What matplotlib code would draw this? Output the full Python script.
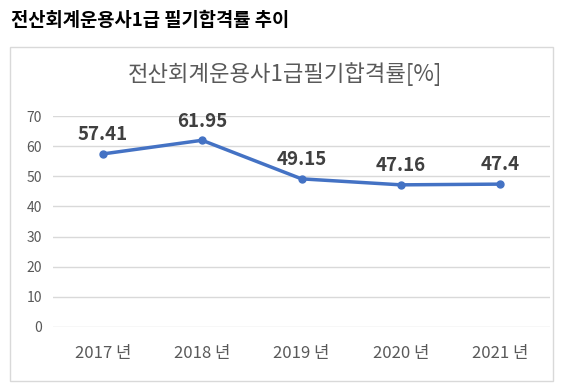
import matplotlib
matplotlib.use("Agg")
import matplotlib.pyplot as plt
from matplotlib.patches import Rectangle

plt.rcParams['font.family'] = ['Noto Sans CJK KR', 'DejaVu Sans']

categories = ["2017 년", "2018 년", "2019 년", "2020 년", "2021 년"]
values = [57.41, 61.95, 49.15, 47.16, 47.4]
value_labels = ["57.41", "61.95", "49.15", "47.16", "47.4"]
yticks = [0, 10, 20, 30, 40, 50, 60, 70]

W, H = 568, 389
fig = plt.figure(figsize=(W / 100, H / 100), dpi=100)

# outer frame box
fig.patches.append(Rectangle((10 / W, 1 - 381 / H), 543 / W, 334 / H,
                             transform=fig.transFigure, fill=False,
                             edgecolor="#d9d9d9", linewidth=1.0))

fig.text(11 / W, 1 - 20 / H, "전산회계운용사1급 필기합격률 추이", fontsize=13.5,
         fontweight="bold", color="black", ha="left", va="center")
fig.text(285 / W, 1 - 74 / H, "전산회계운용사1급필기합격률[%]", fontsize=16,
         color="#595959", ha="center", va="center")

ax = fig.add_axes([53 / W, 1 - 327 / H, 497 / W, 211 / H])
x = list(range(len(categories)))
ax.plot(x, values, color="#4472C4", linewidth=2.5, marker="o", markersize=5,
        solid_capstyle="round", zorder=3)
for xi, v, lab in zip(x, values, value_labels):
    ax.annotate(lab, (xi, v), xytext=(0, 7), textcoords="offset points",
                ha="center", va="bottom", fontsize=13.5, fontweight="bold",
                color="#404040")

ax.set_xlim(-0.5, len(categories) - 0.5)
ax.set_ylim(0, 70)
ax.set_yticks(yticks)
ax.set_xticks(x)
ax.set_xticklabels(categories)
ax.grid(axis="y", color="#d9d9d9", linewidth=1)
ax.set_axisbelow(True)
for s in ax.spines.values():
    s.set_visible(False)
ax.tick_params(axis="both", length=0, colors="#595959")
ax.tick_params(axis="y", labelsize=10, pad=8)
ax.tick_params(axis="x", labelsize=12, pad=13)

fig.savefig("out.png", dpi=100)
